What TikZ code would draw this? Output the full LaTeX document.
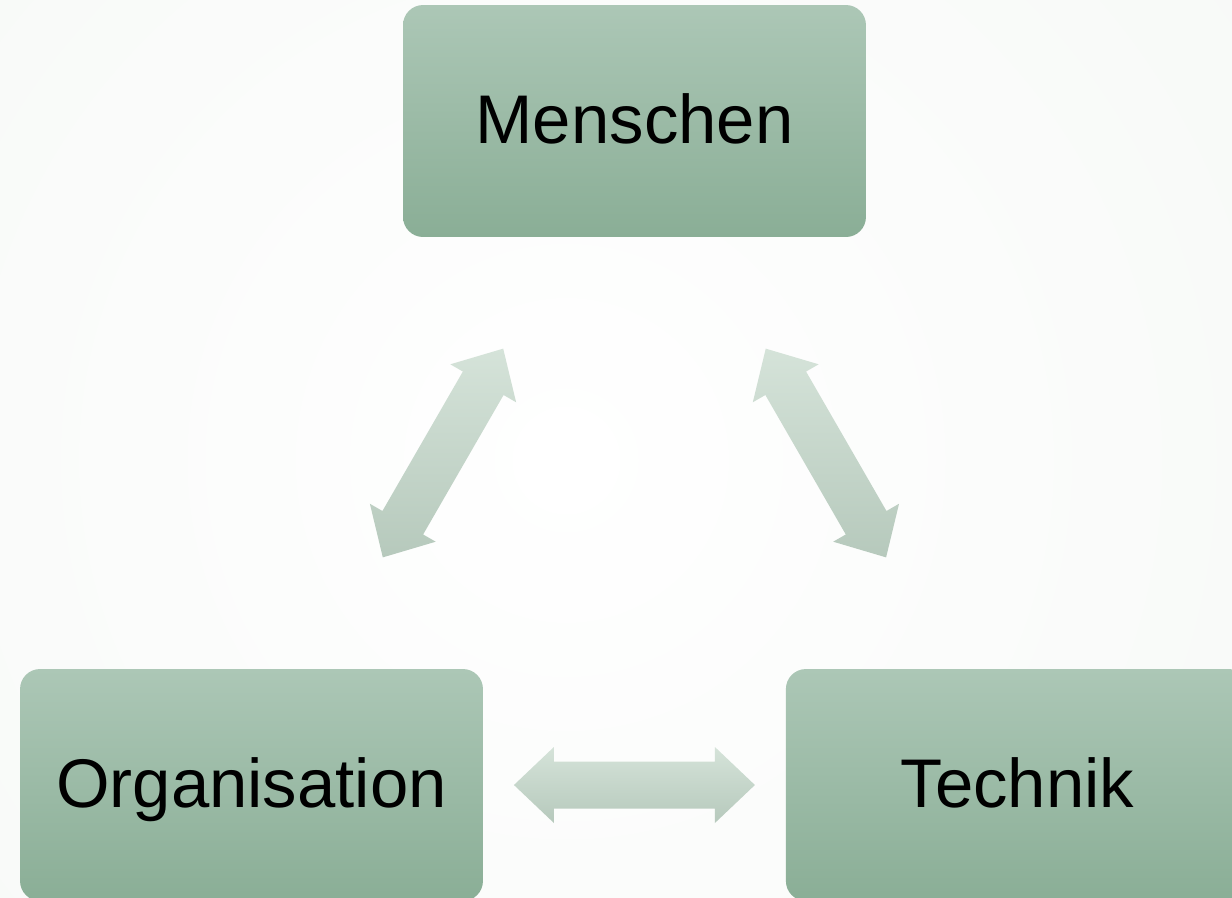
\documentclass[tikz,border=0pt]{standalone}
\usepackage{fontspec}
\setmainfont{Liberation Sans}
\usetikzlibrary{calc,positioning}
\definecolor{bgout}{RGB}{243,246,243}
\definecolor{boxtop}{RGB}{172,199,182}
\definecolor{boxbot}{RGB}{138,174,150}
\definecolor{arrtop}{RGB}{213,227,217}
\definecolor{arrbot}{RGB}{182,201,188}
\tikzstyle{nb}=[rounded corners=0.4cm,minimum width=9.26cm,minimum height=4.64cm,top color=boxtop,bottom color=boxbot,text centered,text height=0.88cm,text depth=0pt,font=\fontsize{39.2}{47}\selectfont]
\tikzstyle{da}=[top color=arrtop,bottom color=arrbot,to path={
  -- ($(\tikztostart)!1.1035cm!43.53:(\tikztotarget)$)
  -- ($(\tikztostart)!0.9278cm!30.43:(\tikztotarget)$)
  -- ($(\tikztotarget)!0.9278cm!-30.43:(\tikztostart)$)
  -- ($(\tikztotarget)!1.1035cm!-43.53:(\tikztostart)$)
  -- (\tikztotarget)
  -- ($(\tikztotarget)!1.1035cm!43.53:(\tikztostart)$)
  -- ($(\tikztotarget)!0.9278cm!30.43:(\tikztostart)$)
  -- ($(\tikztostart)!0.9278cm!-30.43:(\tikztotarget)$)
  -- ($(\tikztostart)!1.1035cm!-43.53:(\tikztotarget)$)
  -- cycle}]

\begin{document}
\begin{tikzpicture}[x=0.02cm,y=-0.02cm]
   \useasboundingbox (0,0) rectangle (1232,897);
   \clip (0,0) rectangle (1232,897);
   % background
   \fill[bgout] (0,0) rectangle (1232,897);
   \shade[inner color=white,outer color=bgout] (566,460) circle (1300);

     \node [nb] (n1) at (634.5,121) {Menschen};
     \node [nb] (n2) at (251.5,785) {Organisation};
     \node [nb] (n3) [node distance=15.32cm,right of=n2] {Technik};

     \coordinate (m12) at ($(n1)!0.5!(n2)$);
     \coordinate (m13) at ($(n1)!0.5!(n3)$);
     \coordinate (m23) at ($(n2)!0.5!(n3)$);

      \path[da] ($(m12)!2.41cm!(n1)$) to ($(m12)!2.41cm!(n2)$);
      \path[da] ($(m13)!2.41cm!(n1)$) to ($(m13)!2.41cm!(n3)$);
      \path[da] ($(m23)!2.41cm!(n2)$) to ($(m23)!2.41cm!(n3)$);
    \end{tikzpicture}
\end{document}
